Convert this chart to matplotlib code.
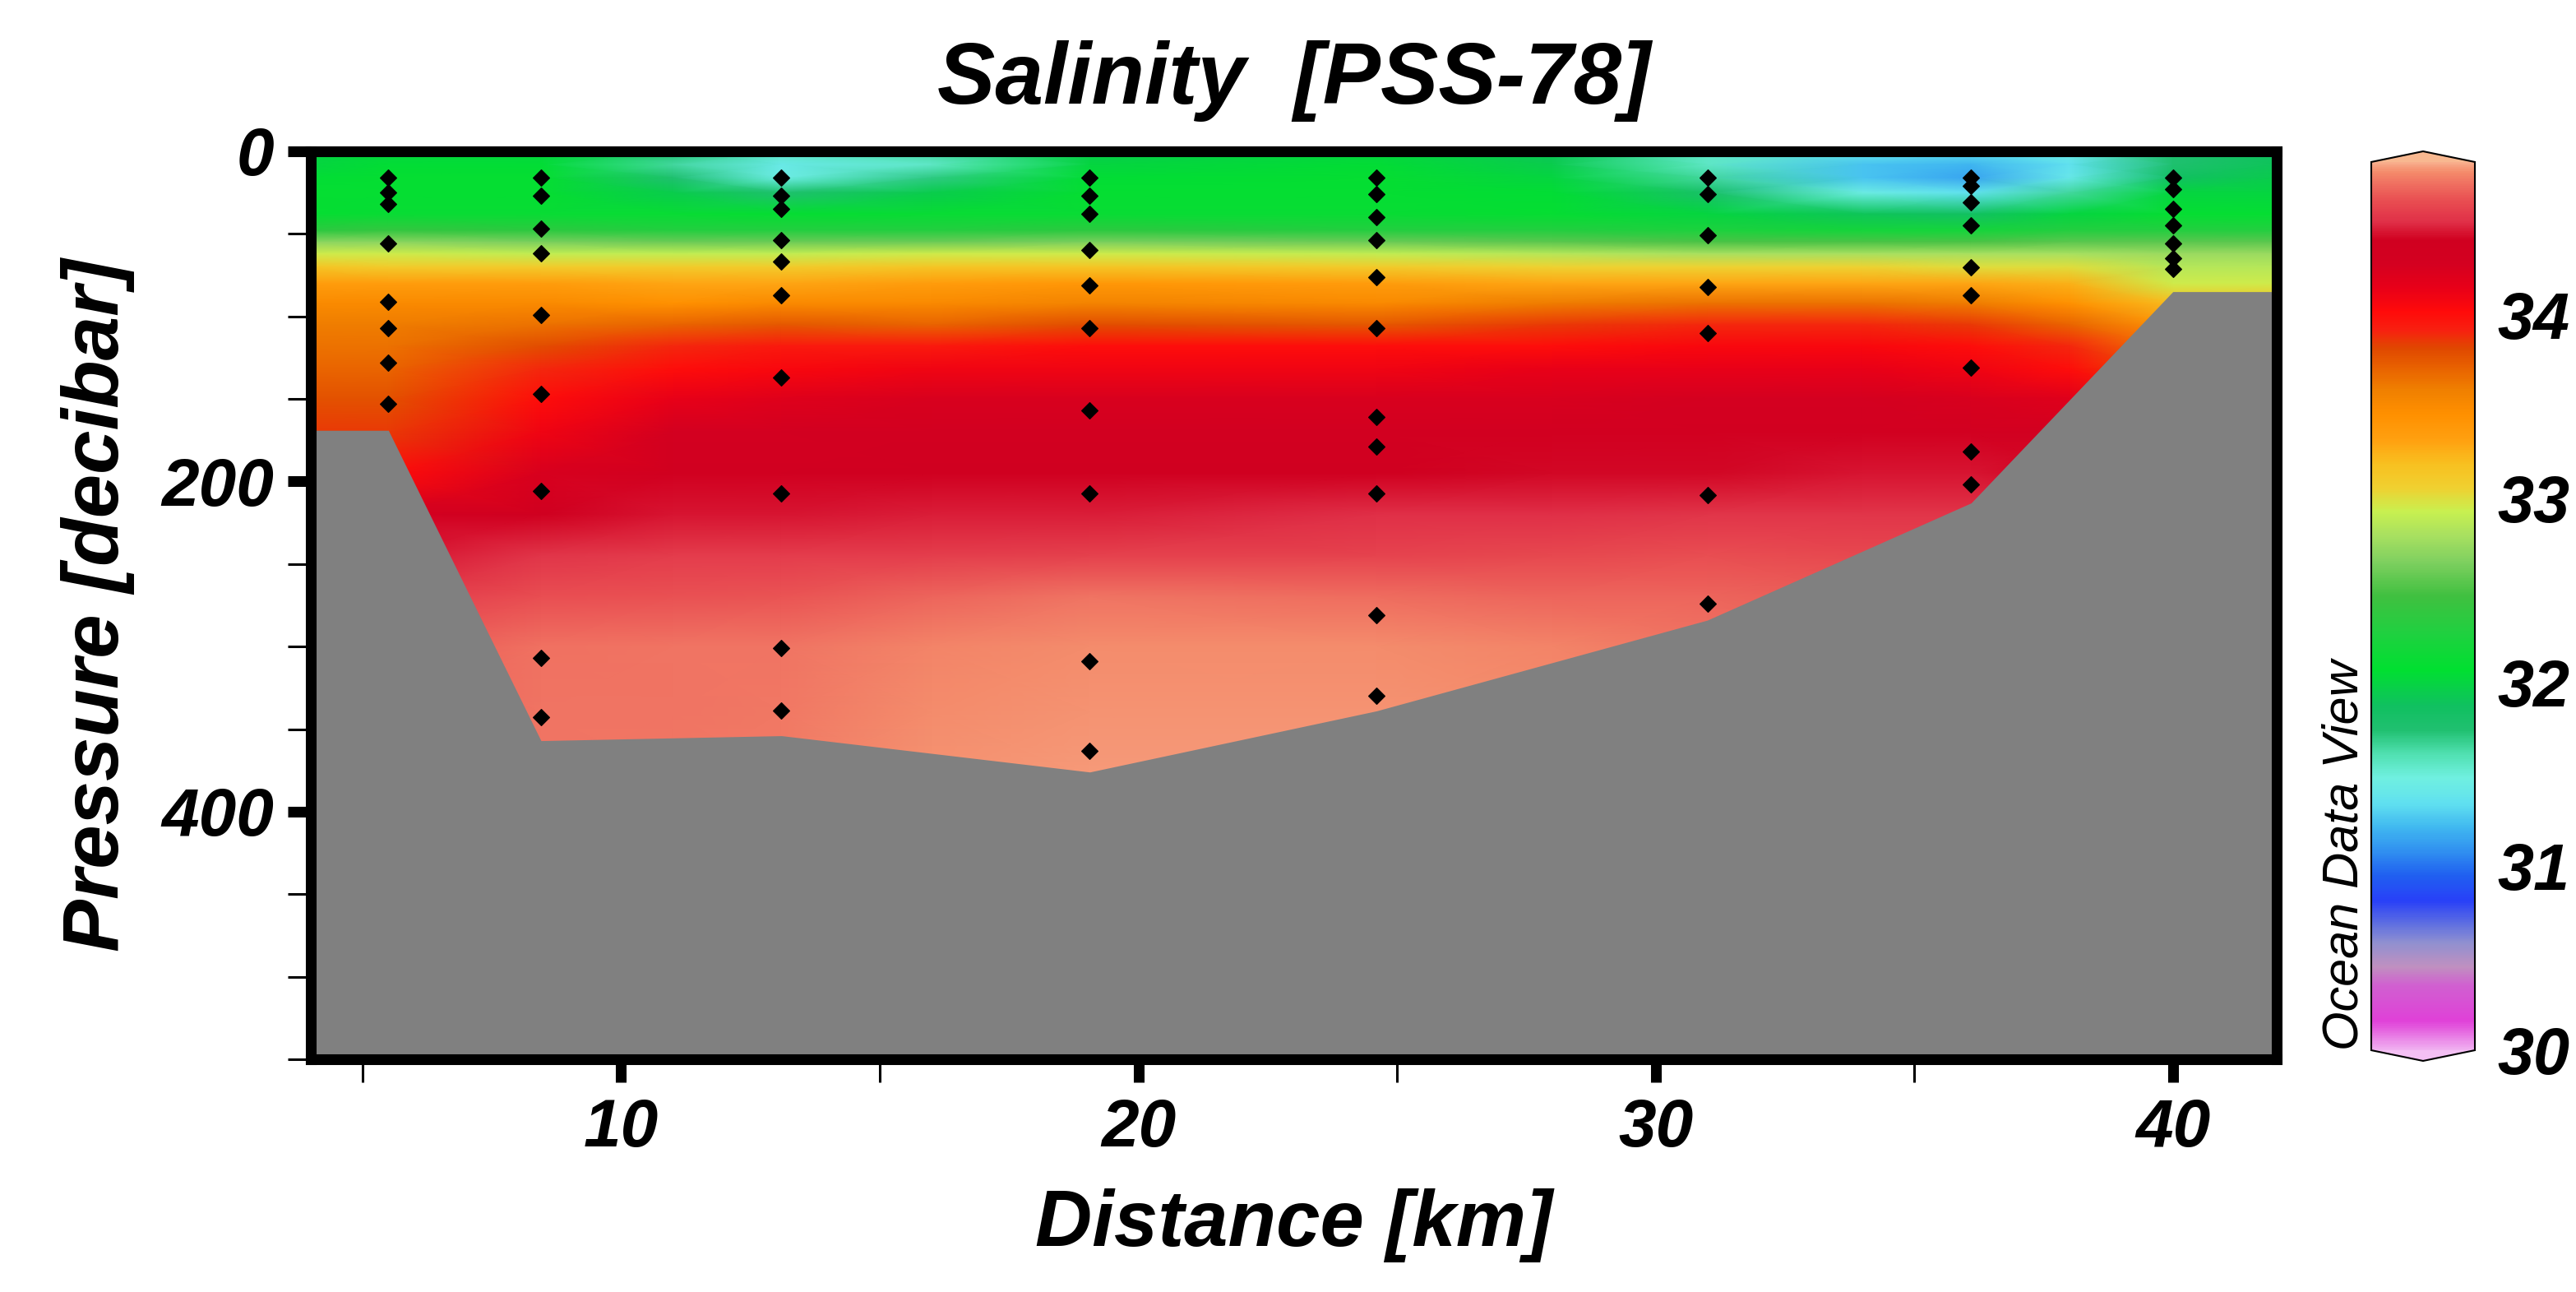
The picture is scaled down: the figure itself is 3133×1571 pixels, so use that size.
import numpy as np
import matplotlib
matplotlib.use("Agg")
import matplotlib.pyplot as plt
from matplotlib.colors import LinearSegmentedColormap, Normalize
from matplotlib.ticker import FixedLocator

# ---------------------------------------------------------------
# Section data
# ---------------------------------------------------------------
station_km = [5.5, 8.45, 13.1, 19.06, 24.6, 31.0, 36.1, 40.0]
bottom_dbar = [169, 357, 354, 376, 339, 284, 213, 85]

# sample pressures (dbar) at each station
sample_dbar = [
    [16, 25, 32, 56, 91, 107, 128, 153],
    [16, 27, 47, 62, 99, 147, 206, 307, 343],
    [16, 27, 35, 54, 67, 87, 137, 207, 301, 339],
    [16, 27, 38, 60, 81, 107, 157, 207, 309, 363],
    [16, 26, 40, 54, 76, 107, 161, 179, 207, 281, 330],
    [16, 26, 51, 82, 110, 208, 274],
    [16, 21, 31, 45, 70, 87, 131, 182, 202],
    [16, 23, 35, 45, 56, 65, 71],
]

# gridded salinity field (rows: pressure levels, columns: distance nodes)
grid_km = [4.0, 5.5, 8.45, 11.0, 13.1, 16.0, 19.06, 24.6, 28.0, 31.0, 34.0, 36.1, 38.0, 40.0, 42.0]
grid_dbar = [0, 8, 16, 25, 38, 48, 55, 62, 70, 80, 92, 105, 118, 132, 150,
             170, 195, 220, 245, 270, 300, 340, 380]
salinity = [
    [32.00, 32.00, 32.00, 31.75, 31.55, 31.65, 31.95, 32.00, 31.90, 31.55, 31.40, 31.35, 31.45, 31.75, 31.85],
    [32.00, 32.05, 32.05, 31.65, 31.42, 31.55, 32.00, 32.05, 31.95, 31.55, 31.25, 31.20, 31.35, 31.75, 31.90],
    [32.05, 32.10, 32.10, 31.75, 31.45, 31.70, 32.05, 32.10, 32.00, 31.65, 31.25, 31.15, 31.40, 31.85, 31.95],
    [32.10, 32.10, 32.10, 31.95, 31.75, 31.95, 32.10, 32.10, 32.05, 31.80, 31.45, 31.35, 31.65, 32.00, 32.00],
    [32.10, 32.12, 32.12, 32.12, 32.10, 32.12, 32.12, 32.12, 32.10, 32.00, 31.90, 31.85, 32.00, 32.10, 32.10],
    [32.35, 32.40, 32.35, 32.30, 32.30, 32.30, 32.35, 32.30, 32.30, 32.25, 32.20, 32.20, 32.30, 32.30, 32.30],
    [32.70, 32.70, 32.65, 32.60, 32.60, 32.60, 32.65, 32.60, 32.55, 32.50, 32.50, 32.50, 32.55, 32.55, 32.55],
    [32.95, 32.95, 32.90, 32.90, 32.90, 32.95, 32.95, 32.90, 32.85, 32.80, 32.80, 32.80, 32.80, 32.75, 32.75],
    [33.15, 33.10, 33.10, 33.10, 33.10, 33.15, 33.15, 33.10, 33.05, 33.05, 33.05, 33.00, 33.00, 32.85, 32.85],
    [33.35, 33.35, 33.35, 33.30, 33.30, 33.35, 33.40, 33.35, 33.30, 33.30, 33.30, 33.30, 33.25, 32.95, 32.95],
    [33.50, 33.50, 33.50, 33.45, 33.50, 33.50, 33.55, 33.50, 33.60, 33.65, 33.65, 33.60, 33.45, 33.20, 33.20],
    [33.60, 33.60, 33.65, 33.70, 33.75, 33.70, 33.80, 33.75, 33.85, 33.90, 33.90, 33.85, 33.70, 33.40, 33.40],
    [33.65, 33.65, 33.80, 33.90, 33.95, 33.95, 34.00, 34.00, 34.00, 34.05, 34.05, 34.00, 33.90, 33.60, 33.60],
    [33.70, 33.70, 33.90, 34.00, 34.05, 34.10, 34.10, 34.10, 34.15, 34.15, 34.15, 34.10, 34.00, 33.80, 33.80],
    [33.78, 33.78, 34.00, 34.15, 34.20, 34.25, 34.25, 34.25, 34.25, 34.28, 34.28, 34.25, 34.20, 34.00, 34.00],
    [33.85, 33.85, 34.10, 34.30, 34.30, 34.33, 34.33, 34.33, 34.35, 34.35, 34.35, 34.35, 34.30, 34.20, 34.20],
    [34.00, 34.00, 34.25, 34.38, 34.38, 34.40, 34.40, 34.40, 34.42, 34.42, 34.45, 34.45, 34.40, 34.30, 34.30],
    [34.30, 34.30, 34.40, 34.45, 34.45, 34.47, 34.47, 34.50, 34.50, 34.52, 34.52, 34.52, 34.50, 34.40, 34.40],
    [34.40, 34.45, 34.52, 34.55, 34.55, 34.56, 34.57, 34.58, 34.60, 34.62, 34.60, 34.60, 34.55, 34.50, 34.50],
    [34.50, 34.55, 34.62, 34.63, 34.64, 34.68, 34.72, 34.70, 34.68, 34.68, 34.66, 34.65, 34.60, 34.55, 34.55],
    [34.60, 34.65, 34.71, 34.72, 34.72, 34.76, 34.78, 34.78, 34.76, 34.72, 34.70, 34.70, 34.70, 34.60, 34.60],
    [34.70, 34.70, 34.72, 34.72, 34.73, 34.78, 34.79, 34.79, 34.78, 34.75, 34.75, 34.75, 34.75, 34.70, 34.70],
    [34.72, 34.72, 34.72, 34.73, 34.74, 34.79, 34.80, 34.80, 34.79, 34.78, 34.78, 34.78, 34.78, 34.75, 34.75],
]

# colour scale anchors (salinity, colour)
scale_values = [30.00, 30.155, 30.35, 30.45, 30.58, 30.68, 30.81, 30.95, 31.08, 31.21,
                31.34, 31.48, 31.61, 31.74, 31.87, 32.07, 32.27, 32.47, 32.66, 32.80,
                32.93, 33.06, 33.19, 33.32, 33.46, 33.59, 33.72, 33.82, 33.92, 34.02,
                34.15, 34.28, 34.41, 34.51, 34.61, 34.67, 34.72, 34.78, 34.83]
scale_colors = ["#f0b0f0", "#e040d8", "#d060d0", "#c090c0", "#9090d0", "#6070e0",
                "#2840f8", "#2060f0", "#3090f0", "#40b8f0", "#60e0f0", "#70f0e0",
                "#50e0b0", "#20c070", "#10c060", "#00e030", "#20d040", "#40c040",
                "#80d060", "#a8e060", "#c8f050", "#f0d030", "#f8c020", "#ffa010",
                "#ff9000", "#f08000", "#e86000", "#e04800", "#f82010", "#ff0a0a",
                "#e80018", "#d40020", "#d00020", "#e03048", "#e84a50", "#ec5e58",
                "#f07262", "#f48a6a", "#f8ae8c"]
cbar_ticks = [30, 31, 32, 33, 34]
xmin, xmax = 4.0, 42.0
pmin, pmax = 0.0, 550.0

# ---------------------------------------------------------------
# Styling
# ---------------------------------------------------------------
plt.rcParams["font.family"] = ["Liberation Sans", "DejaVu Sans"]
plt.rcParams["font.weight"] = "bold"
plt.rcParams["font.style"] = "italic"
plt.rcParams["axes.titleweight"] = "bold"
plt.rcParams["axes.labelweight"] = "bold"

vmin, vmax = scale_values[0], scale_values[-1]
cmap = LinearSegmentedColormap.from_list(
    "odv_like",
    [((v - vmin) / (vmax - vmin), c) for v, c in zip(scale_values, scale_colors)],
    N=512,
)
cmap.set_over("#f8b890")
cmap.set_under("#f4c0f4")
norm = Normalize(vmin=vmin, vmax=vmax)

W, H = 3133, 1571
fig = plt.figure(figsize=(W / 100, H / 100), dpi=100)

ax_l, ax_r, ax_t, ax_b = 378, 2768.5, 184, 1288
ax = fig.add_axes([ax_l / W, 1 - ax_b / H, (ax_r - ax_l) / W, (ax_b - ax_t) / H])

# salinity field
X, Y = np.meshgrid(grid_km, grid_dbar)
mesh = ax.pcolormesh(X, Y, np.array(salinity), cmap=cmap, norm=norm,
                     shading="gouraud", zorder=1)

# sea floor
bx = [xmin] + station_km + [xmax]
bd = [bottom_dbar[0]] + bottom_dbar + [bottom_dbar[-1]]
ax.fill_between(bx, bd, pmax, color="#808080", linewidth=0, zorder=2)

# sample positions
for km, depths in zip(station_km, sample_dbar):
    ax.plot([km] * len(depths), depths, linestyle="none", marker="D",
            markersize=10.5, markerfacecolor="black", markeredgecolor="black",
            markeredgewidth=0.8, zorder=3)

ax.set_xlim(xmin, xmax)
ax.set_ylim(pmax, pmin)

ax.xaxis.set_major_locator(FixedLocator([10, 20, 30, 40]))
ax.xaxis.set_minor_locator(FixedLocator([5, 15, 25, 35]))
ax.yaxis.set_major_locator(FixedLocator([0, 200, 400]))
ax.yaxis.set_minor_locator(FixedLocator([50, 100, 150, 250, 300, 350, 450, 500, 550]))

ax.tick_params(which="major", direction="out", length=20, width=9.4,
               labelsize=59, color="black")
ax.tick_params(which="minor", direction="out", length=20, width=2.2, color="black")
ax.tick_params(axis="x", which="major", pad=14)
ax.tick_params(axis="y", which="major", pad=12)

for sp in ax.spines.values():
    sp.set_linewidth(9.4)
    sp.set_color("black")
    sp.set_zorder(5)

ax.set_xlabel("Distance [km]", fontsize=69, fontweight="bold")
ax.xaxis.set_label_coords(0.5, (ax_b - 1445) / (ax_b - ax_t))
ax.set_ylabel("Pressure [decibar]", fontsize=69, fontweight="bold")
ax.yaxis.set_label_coords((164 - ax_l) / (ax_r - ax_l), 0.5)

ax.set_title("Salinity  [PSS-78]", fontsize=76, fontweight="bold",
             y=(ax_b - 126) / (ax_b - ax_t), pad=0)

# colour bar
cb_l, cb_r, cb_t, cb_b = 2884, 3010, 184, 1290
cax = fig.add_axes([cb_l / W, 1 - cb_b / H, (cb_r - cb_l) / W, (cb_b - cb_t) / H])
cb = fig.colorbar(mesh, cax=cax, extend="both", extendfrac=0.012, ticks=cbar_ticks)
cb.outline.set_linewidth(1.5)
cax.tick_params(length=0, pad=20, labelsize=57)
cax.set_yticklabels([str(t) for t in cbar_ticks])

fig.text(2867 / W, 1 - 1040 / H, "Ocean Data View", rotation=90,
         rotation_mode="anchor", ha="center", va="baseline",
         fontsize=44, fontweight="normal", fontstyle="italic",
         family=["Liberation Sans", "DejaVu Sans"])

fig.savefig("out.png", dpi=100)
